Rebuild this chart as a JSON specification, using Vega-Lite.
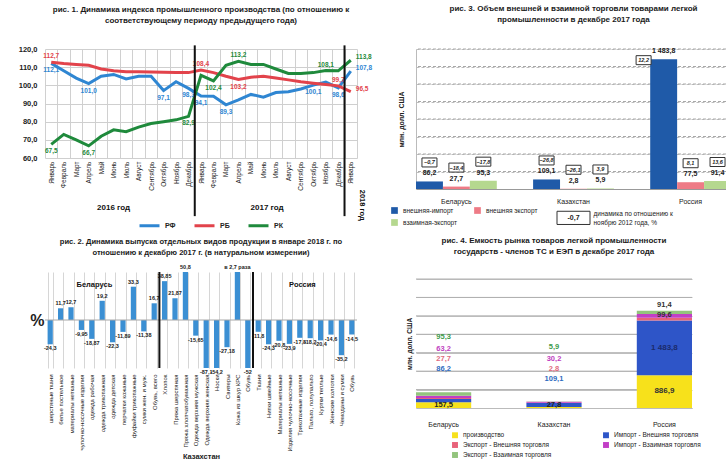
{
  "$schema": "https://vega.github.io/schema/vega-lite/v6.json",
  "background": "white",
  "padding": {"left": 18, "top": 5, "right": 0, "bottom": 0},
  "config": {
    "font": "Liberation Sans",
    "view": {"stroke": null},
    "locale": {"number": {"decimal": ",", "thousands": " ", "grouping": [3], "currency": ["", ""]}},
    "title": {"fontSize": 8, "fontWeight": "bold", "color": "#1a1a1a", "lineHeight": 11, "anchor": "middle"},
    "axis": {"labelColor": "#222", "titleColor": "#222"},
    "legend": {"labelColor": "#222"}
  },
  "datasets": {
    "prod": [
      {"i":0,"s":"РФ","v":112.1},{"i":1,"s":"РФ","v":108.0},{"i":2,"s":"РФ","v":104.0},{"i":3,"s":"РФ","v":101.0},{"i":4,"s":"РФ","v":105.0},{"i":5,"s":"РФ","v":106.0},{"i":6,"s":"РФ","v":103.5},{"i":7,"s":"РФ","v":105.0},{"i":8,"s":"РФ","v":105.0},{"i":9,"s":"РФ","v":97.1},{"i":10,"s":"РФ","v":102.0},{"i":11,"s":"РФ","v":98.3},{"i":12,"s":"РФ","v":94.1},{"i":13,"s":"РФ","v":94.0},{"i":14,"s":"РФ","v":89.3},{"i":15,"s":"РФ","v":92.0},{"i":16,"s":"РФ","v":95.0},{"i":17,"s":"РФ","v":93.5},{"i":18,"s":"РФ","v":96.0},{"i":19,"s":"РФ","v":96.5},{"i":20,"s":"РФ","v":98.0},{"i":21,"s":"РФ","v":100.1},{"i":22,"s":"РФ","v":101.8},{"i":23,"s":"РФ","v":98.6},{"i":24,"s":"РФ","v":107.8},
      {"i":0,"s":"РБ","v":112.7},{"i":1,"s":"РБ","v":112.0},{"i":2,"s":"РБ","v":111.5},{"i":3,"s":"РБ","v":111.0},{"i":4,"s":"РБ","v":109.0},{"i":5,"s":"РБ","v":108.0},{"i":6,"s":"РБ","v":107.5},{"i":7,"s":"РБ","v":107.5},{"i":8,"s":"РБ","v":107.3},{"i":9,"s":"РБ","v":107.2},{"i":10,"s":"РБ","v":107.0},{"i":11,"s":"РБ","v":107.0},{"i":12,"s":"РБ","v":108.4},{"i":13,"s":"РБ","v":107.0},{"i":14,"s":"РБ","v":105.0},{"i":15,"s":"РБ","v":103.2},{"i":16,"s":"РБ","v":104.5},{"i":17,"s":"РБ","v":105.0},{"i":18,"s":"РБ","v":104.0},{"i":19,"s":"РБ","v":103.0},{"i":20,"s":"РБ","v":102.0},{"i":21,"s":"РБ","v":101.2},{"i":22,"s":"РБ","v":100.5},{"i":23,"s":"РБ","v":99.7},{"i":24,"s":"РБ","v":96.5},
      {"i":0,"s":"РК","v":67.5},{"i":1,"s":"РК","v":73.0},{"i":2,"s":"РК","v":70.0},{"i":3,"s":"РК","v":66.7},{"i":4,"s":"РК","v":72.0},{"i":5,"s":"РК","v":75.5},{"i":6,"s":"РК","v":74.5},{"i":7,"s":"РК","v":77.0},{"i":8,"s":"РК","v":79.0},{"i":9,"s":"РК","v":80.0},{"i":10,"s":"РК","v":81.0},{"i":11,"s":"РК","v":82.9},{"i":12,"s":"РК","v":105.5},{"i":13,"s":"РК","v":102.4},{"i":14,"s":"РК","v":111.0},{"i":15,"s":"РК","v":113.2},{"i":16,"s":"РК","v":111.5},{"i":17,"s":"РК","v":111.5},{"i":18,"s":"РК","v":109.0},{"i":19,"s":"РК","v":106.5},{"i":20,"s":"РК","v":106.5},{"i":21,"s":"РК","v":107.0},{"i":22,"s":"РК","v":108.1},{"i":23,"s":"РК","v":108.0},{"i":24,"s":"РК","v":113.8}
    ],
    "labAbove": [
      {"i":0,"s":"РБ","v":112.7},{"i":12,"s":"РБ","v":108.4},{"i":15,"s":"РК","v":113.2},{"i":22,"s":"РК","v":108.1},{"i":23,"s":"РБ","v":99.7}
    ],
    "labBelow": [
      {"i":0,"s":"РФ","v":112.1},{"i":3,"s":"РФ","v":101.0},{"i":9,"s":"РФ","v":97.1},{"i":11,"s":"РФ","v":98.3},{"i":12,"s":"РФ","v":94.1},{"i":14,"s":"РФ","v":89.3},{"i":21,"s":"РФ","v":100.1},{"i":23,"s":"РФ","v":98.6},
      {"i":15,"s":"РБ","v":103.2},
      {"i":0,"s":"РК","v":67.5},{"i":3,"s":"РК","v":66.7},{"i":11,"s":"РК","v":82.9},{"i":13,"s":"РК","v":102.4}
    ],
    "labRight": [
      {"i":24,"s":"РФ","v":107.8},{"i":24,"s":"РБ","v":96.5},{"i":24,"s":"РК","v":113.8}
    ],
    "out": [
      {"n":1,"v":-24.3,"lbl":"-24,3"},{"n":2,"v":11.7,"lbl":"11,7"},{"n":3,"v":12.7,"lbl":"12,7"},{"n":4,"v":-9.95,"lbl":"-9,95"},{"n":5,"v":-18.87,"lbl":"-18,87"},{"n":6,"v":19.2,"lbl":"19,2"},{"n":7,"v":-22.3,"lbl":"-22,3"},{"n":8,"v":-11.89,"lbl":"-11,89"},{"n":9,"v":33.3,"lbl":"33,3"},{"n":10,"v":-11.38,"lbl":"-11,38"},{"n":11,"v":16.7,"lbl":"16,7"},
      {"n":12,"v":38.85,"lbl":"38,85"},{"n":13,"v":21.87,"lbl":"21,87"},{"n":14,"v":50.8,"lbl":"50,8"},{"n":15,"v":-15.65,"lbl":"-15,65"},{"n":16,"v":-87.1,"lbl":"-87,1"},{"n":17,"v":-54.2,"lbl":"-54,2"},{"n":18,"v":-27.18,"lbl":"-27,18"},{"n":19,"v":170,"lbl":"в 2,7 раза"},{"n":20,"v":-52,"lbl":"-52"},
      {"n":21,"v":-11.8,"lbl":"-11,8"},{"n":22,"v":-24.3,"lbl":"-24,3"},{"n":23,"v":-20.8,"lbl":"-20,8"},{"n":24,"v":-23.9,"lbl":"-23,9"},{"n":25,"v":-17.8,"lbl":"-17,8"},{"n":26,"v":-18.2,"lbl":"-18,2"},{"n":27,"v":-20.4,"lbl":"-20,4"},{"n":28,"v":-14.6,"lbl":"-14,6"},{"n":29,"v":-35.2,"lbl":"-35,2"},{"n":30,"v":-14.5,"lbl":"-14,5"}
    ],
    "trade": [
      {"c":"Беларусь","f":"внешняя-импорт","v":86.2,"d":-0.7},{"c":"Беларусь","f":"внешняя экспорт","v":27.7,"d":-18.4},{"c":"Беларусь","f":"взаимная-экспорт","v":95.3,"d":-17.8},
      {"c":"Казахстан","f":"внешняя-импорт","v":109.1,"d":-26.8},{"c":"Казахстан","f":"внешняя экспорт","v":2.8,"d":-26.1},{"c":"Казахстан","f":"взаимная-экспорт","v":5.9,"d":3.9},
      {"c":"Россия","f":"внешняя-импорт","v":1483.8,"d":12.2},{"c":"Россия","f":"внешняя экспорт","v":77.5,"d":8.1},{"c":"Россия","f":"взаимная-экспорт","v":91.4,"d":13.6}
    ],
    "market": [
      {"c":"Беларусь","k":1,"s":"производство","v":157.5},{"c":"Беларусь","k":2,"s":"Импорт - Внешняя торговля","v":86.2},{"c":"Беларусь","k":3,"s":"Экспорт - Внешняя торговля","v":27.7},{"c":"Беларусь","k":4,"s":"Импорт - Взаимная торговля","v":63.2},{"c":"Беларусь","k":5,"s":"Экспорт - Взаимная торговля","v":95.3},
      {"c":"Казахстан","k":1,"s":"производство","v":27.8},{"c":"Казахстан","k":2,"s":"Импорт - Внешняя торговля","v":109.1},{"c":"Казахстан","k":3,"s":"Экспорт - Внешняя торговля","v":2.8},{"c":"Казахстан","k":4,"s":"Импорт - Взаимная торговля","v":30.2},{"c":"Казахстан","k":5,"s":"Экспорт - Взаимная торговля","v":5.9},
      {"c":"Россия","k":1,"s":"производство","v":886.9},{"c":"Россия","k":2,"s":"Импорт - Внешняя торговля","v":1483.8},{"c":"Россия","k":3,"s":"Экспорт - Внешняя торговля","v":77.5},{"c":"Россия","k":4,"s":"Импорт - Взаимная торговля","v":99.6},{"c":"Россия","k":5,"s":"Экспорт - Взаимная торговля","v":91.4}
    ]
  },
  "resolve": {"scale": {"color": "independent"}, "legend": {"color": "independent"}},
  "spacing": 17,
  "hconcat": [
    {
      "resolve": {"scale": {"color": "independent"}, "legend": {"color": "independent"}},
      "concat": [
        {
          "width": 312,
          "height": 109,
          "title": {"text": ["рис. 1. Динамика индекса промышленного производства (по отношению к", "соответствующему периоду предыдущего года)"], "offset": 19},
          "layer": [
            {
              "data": {"name": "prod"},
              "mark": {"type": "line", "strokeWidth": 3},
              "encoding": {
                "x": {"field": "i", "type": "ordinal", "scale": {"type": "band", "paddingInner": 0, "paddingOuter": 0},
                  "axis": {"title": null, "labelAngle": -90, "labelFontSize": 6.5, "labelPadding": 3, "ticks": false, "domain": false, "grid": true, "gridColor": "#d0d0d0", "tickBand": "extent",
                    "labelExpr": "['Январь','Февраль','Март','Апрель','Май','Июнь','Июль','Август','Сентябрь','Октябрь','Ноябрь','Декабрь'][datum.value % 12]"}},
                "y": {"field": "v", "type": "quantitative", "scale": {"domain": [60, 120], "nice": false, "zero": false},
                  "axis": {"title": null, "tickCount": 6, "format": ".1f", "labelFontSize": 7.5, "labelFontWeight": "bold", "labelPadding": 8, "labelOverlap": false, "ticks": false, "domain": false, "grid": true, "gridColor": "#cfcfcf"}},
                "color": {"field": "s", "type": "nominal", "scale": {"domain": ["РФ", "РБ", "РК"], "range": ["#2f86d2", "#e2434b", "#1f8a3c"]},
                  "legend": {"orient": "none", "legendX": 93, "legendY": 165, "direction": "horizontal", "title": null, "symbolType": "stroke", "symbolStrokeWidth": 3, "symbolSize": 400, "labelFontSize": 7, "labelFontWeight": "bold", "columnPadding": 12}}
              }
            },
            {
              "data": {"name": "labAbove"},
              "mark": {"type": "text", "baseline": "bottom", "dy": -3, "fontSize": 6.5, "fontWeight": "bold"},
              "encoding": {
                "x": {"field": "i", "type": "ordinal"},
                "y": {"field": "v", "type": "quantitative"},
                "text": {"field": "v", "type": "quantitative", "format": ".1f"},
                "color": {"field": "s", "type": "nominal", "legend": null}
              }
            },
            {
              "data": {"name": "labBelow"},
              "mark": {"type": "text", "baseline": "top", "dy": 4, "fontSize": 6.5, "fontWeight": "bold"},
              "encoding": {
                "x": {"field": "i", "type": "ordinal"},
                "y": {"field": "v", "type": "quantitative"},
                "text": {"field": "v", "type": "quantitative", "format": ".1f"},
                "color": {"field": "s", "type": "nominal", "legend": null}
              }
            },
            {
              "data": {"name": "labRight"},
              "mark": {"type": "text", "align": "left", "baseline": "middle", "dx": 5, "dy": -3, "fontSize": 6.5, "fontWeight": "bold"},
              "encoding": {
                "x": {"field": "i", "type": "ordinal"},
                "y": {"field": "v", "type": "quantitative"},
                "text": {"field": "v", "type": "quantitative", "format": ".1f"},
                "color": {"field": "s", "type": "nominal", "legend": null}
              }
            },
            {
              "data": {"values": [{}]},
              "mark": {"type": "rule", "color": "#111", "strokeWidth": 2},
              "encoding": {"x": {"datum": 12, "type": "ordinal", "bandPosition": 0}, "y": {"datum": 122, "type": "quantitative", "axis": {"title": null, "tickCount": 6, "format": ".1f", "labelFontSize": 7.5, "labelFontWeight": "bold", "labelPadding": 8, "labelOverlap": false, "ticks": false, "domain": false, "grid": true, "gridColor": "#cfcfcf"}}, "y2": {"datum": 28}}
            },
            {
              "data": {"values": [{}]},
              "mark": {"type": "rule", "color": "#111", "strokeWidth": 2},
              "encoding": {"x": {"datum": 24, "type": "ordinal", "bandPosition": 0}, "y": {"datum": 122, "type": "quantitative", "axis": {"title": null, "tickCount": 6, "format": ".1f", "labelFontSize": 7.5, "labelFontWeight": "bold", "labelPadding": 8, "labelOverlap": false, "ticks": false, "domain": false, "grid": true, "gridColor": "#cfcfcf"}}, "y2": {"datum": 28}}
            },
            {
              "data": {"values": [{}]},
              "mark": {"type": "text", "text": "2016 год", "fontSize": 8, "fontWeight": "bold", "color": "#111"},
              "encoding": {"x": {"datum": 5, "type": "ordinal", "bandPosition": 0.5}, "y": {"datum": 32.5, "type": "quantitative", "axis": {"title": null, "tickCount": 6, "format": ".1f", "labelFontSize": 7.5, "labelFontWeight": "bold", "labelPadding": 8, "labelOverlap": false, "ticks": false, "domain": false, "grid": true, "gridColor": "#cfcfcf"}}}
            },
            {
              "data": {"values": [{}]},
              "mark": {"type": "text", "text": "2017 год", "fontSize": 8, "fontWeight": "bold", "color": "#111"},
              "encoding": {"x": {"datum": 17, "type": "ordinal", "bandPosition": 0.8}, "y": {"datum": 32.5, "type": "quantitative", "axis": {"title": null, "tickCount": 6, "format": ".1f", "labelFontSize": 7.5, "labelFontWeight": "bold", "labelPadding": 8, "labelOverlap": false, "ticks": false, "domain": false, "grid": true, "gridColor": "#cfcfcf"}}}
            },
            {
              "data": {"values": [{}]},
              "mark": {"type": "text", "text": "2018 год", "fontSize": 7.5, "fontWeight": "bold", "color": "#111", "angle": 90, "dy": -5},
              "encoding": {"x": {"datum": 24, "type": "ordinal", "bandPosition": 1}, "y": {"datum": 34, "type": "quantitative", "axis": {"title": null, "tickCount": 6, "format": ".1f", "labelFontSize": 7.5, "labelFontWeight": "bold", "labelPadding": 8, "labelOverlap": false, "ticks": false, "domain": false, "grid": true, "gridColor": "#cfcfcf"}}}
            }
          ]
        },
        {
          "width": 312,
          "height": 96,
          "title": {"text": ["рис. 2. Динамика выпуска отдельных видов продукции в январе 2018 г. по", "отношению к декабрю 2017 г. (в натуральном измерении)"], "offset": 8, "fontSize": 7.6},
          "data": {"name": "out"},
          "layer": [
            {
              "mark": {"type": "bar", "color": "#3b8fd3"},
              "encoding": {
                "x": {"field": "n", "type": "ordinal", "scale": {"paddingInner": 0.5, "paddingOuter": 0.25},
                  "axis": {"title": "Казахстан", "titleFontSize": 7.5, "titleFontWeight": "bold", "titlePadding": 2, "labelAngle": -90, "labelFontSize": 6, "labelPadding": 6, "labelLimit": 80, "ticks": false, "domain": false, "grid": true, "gridColor": "#d6d6d6", "tickBand": "extent",
                    "labelExpr": "['', 'шерстяные ткани','белье постельное','материалы нетканые','чулочно-носочные изделия','одежда рабочая','одежда трикотажная','одежда детская','перчатки кожаные','фуфайки трикотажные','сумки жен. и муж.','Обувь, всего','Хлопок','Пряжа шерстяная','Пряжа хлопчатобумажная','Одежда верхняя мужская','Одежда верхняя женская','Носки','Свитеры','Кожа из шкур КРС','Обувь','Ткани','Нитки швейные','Материалы нетканые','Изделия чулочно-носочные','Трикотажные изделия','Пальто, полупальто','Куртки теплые','Женские колготки','Чемоданы и сумки','Обувь'][datum.value]"}},
                "y": {"field": "v", "type": "quantitative", "scale": {"domain": [-48, 48], "nice": false, "clamp": true},
                  "axis": {"title": "%", "titleAngle": 0, "titleFontSize": 16, "titleFontWeight": "bold", "titleBaseline": "middle", "titleAlign": "right", "labels": false, "ticks": false, "domain": false, "grid": false, "titlePadding": 1}}
              }
            },
            {
              "data": {"values": [{}]},
              "mark": {"type": "rule", "color": "#a8a8a8", "strokeWidth": 1},
              "encoding": {"y": {"datum": 0, "type": "quantitative"}}
            },
            {
              "transform": [{"filter": "datum.v >= 0"}],
              "mark": {"type": "text", "baseline": "bottom", "dy": -2, "fontSize": 5.5, "fontWeight": "bold", "color": "#222"},
              "encoding": {"x": {"field": "n", "type": "ordinal"}, "y": {"field": "v", "type": "quantitative"}, "text": {"field": "lbl"}}
            },
            {
              "transform": [{"filter": "datum.v < 0"}],
              "mark": {"type": "text", "baseline": "top", "dy": 2, "fontSize": 5.5, "fontWeight": "bold", "color": "#222"},
              "encoding": {"x": {"field": "n", "type": "ordinal"}, "y": {"field": "v", "type": "quantitative"}, "text": {"field": "lbl"}}
            },
            {
              "data": {"values": [{}]},
              "mark": {"type": "rule", "color": "#111", "strokeWidth": 2, "xOffset": -2.6},
              "encoding": {"x": {"datum": 12, "type": "ordinal", "bandPosition": 0}, "y": {"datum": 48, "type": "quantitative"}, "y2": {"datum": -48}}
            },
            {
              "data": {"values": [{}]},
              "mark": {"type": "rule", "color": "#111", "strokeWidth": 2, "xOffset": -2.6},
              "encoding": {"x": {"datum": 21, "type": "ordinal", "bandPosition": 0}, "y": {"datum": 48, "type": "quantitative"}, "y2": {"datum": -48}}
            },
            {
              "data": {"values": [{}]},
              "mark": {"type": "text", "text": "Беларусь", "fontSize": 7.5, "fontWeight": "bold", "color": "#111"},
              "encoding": {"x": {"datum": 5, "type": "ordinal", "bandPosition": 1}, "y": {"datum": 35, "type": "quantitative"}}
            },
            {
              "data": {"values": [{}]},
              "mark": {"type": "text", "text": "Россия", "fontSize": 7.5, "fontWeight": "bold", "color": "#111"},
              "encoding": {"x": {"datum": 25, "type": "ordinal", "bandPosition": 1}, "y": {"datum": 35, "type": "quantitative"}}
            }
          ]
        }
      ],
      "columns": 1,
      "align": "none",
      "spacing": 6
    },
    {
      "resolve": {"scale": {"color": "independent"}, "legend": {"color": "independent"}},
      "vconcat": [
        {
          "width": 315,
          "height": 140,
          "title": {"text": ["рис. 3. Объем внешней и взаимной торговли товарами легкой", "промышленности в декабре 2017 года"], "offset": 20},
          "data": {"name": "trade"},
          "layer": [
            {
              "data": {"values": [{"g": 200}, {"g": 400}, {"g": 600}, {"g": 800}, {"g": 1000}, {"g": 1200}, {"g": 1400}, {"g": 1600}]},
              "mark": {"type": "rule", "color": "#a9a9a9", "strokeWidth": 1, "strokeDash": [3, 2]},
              "encoding": {"y": {"field": "g", "type": "quantitative", "axis": {"title": "млн. долл. США", "titleFontSize": 7, "titleFontWeight": "bold", "titlePadding": 12, "labelExpr": "''", "labelPadding": 0, "ticks": false, "domain": true, "domainColor": "#bbb", "grid": true, "gridColor": "#bdbdbd", "gridDash": [3, 2], "tickCount": 8}}}
            },
            {
              "mark": {"type": "bar"},
              "encoding": {
                "x": {"field": "c", "type": "nominal", "scale": {"paddingInner": 0.31, "paddingOuter": 0},
                  "axis": {"title": null, "labelAngle": 0, "labelFontSize": 7, "labelPadding": 8, "ticks": false, "domainColor": "#999"}},
                "xOffset": {"field": "f", "type": "nominal", "scale": {"domain": ["внешняя-импорт", "внешняя экспорт", "взаимная-экспорт"]}},
                "y": {"field": "v", "type": "quantitative", "scale": {"domain": [0, 1600], "nice": false},
                  "axis": {"title": "млн. долл. США", "titleFontSize": 7, "titleFontWeight": "bold", "titlePadding": 12, "labelExpr": "''", "labelPadding": 0, "ticks": false, "domain": true, "domainColor": "#bbb", "grid": true, "gridColor": "#bdbdbd", "gridDash": [3, 2], "tickCount": 8}},
                "color": {"field": "f", "type": "nominal", "scale": {"domain": ["внешняя-импорт", "внешняя экспорт", "взаимная-экспорт"], "range": ["#1f5aa8", "#ee7b86", "#b5d88f"]},
                  "legend": {"orient": "none", "legendX": -26, "legendY": 157, "columns": 2, "direction": "horizontal", "title": null, "symbolType": "square", "symbolSize": 45, "labelFontSize": 6.5, "columnPadding": 15, "rowPadding": 4}}
              }
            },
            {
              "mark": {"type": "text", "baseline": "bottom", "dy": -5, "fontSize": 7, "fontWeight": "bold", "color": "#222"},
              "encoding": {
                "x": {"field": "c", "type": "nominal"},
                "xOffset": {"field": "f", "type": "nominal"},
                "y": {"field": "v", "type": "quantitative"},
                "text": {"field": "v", "type": "quantitative", "format": ",.1f"}
              }
            },
            {
              "transform": [{"filter": "datum.c != 'Россия' || datum.f != 'внешняя-импорт'"}],
              "mark": {"type": "point", "shape": "M-1,-0.6H1V0.6H-1Z", "size": 225, "filled": true, "fill": "white", "stroke": "#333", "strokeWidth": 1, "opacity": 1, "yOffset": -19},
              "encoding": {
                "x": {"field": "c", "type": "nominal"},
                "xOffset": {"field": "f", "type": "nominal"},
                "y": {"field": "v", "type": "quantitative"}
              }
            },
            {
              "transform": [{"filter": "datum.c != 'Россия' || datum.f != 'внешняя-импорт'"}],
              "mark": {"type": "text", "baseline": "middle", "dy": -19, "fontSize": 5.5, "fontWeight": "bold", "fontStyle": "italic", "color": "#222"},
              "encoding": {
                "x": {"field": "c", "type": "nominal"},
                "xOffset": {"field": "f", "type": "nominal"},
                "y": {"field": "v", "type": "quantitative"},
                "text": {"field": "d", "type": "quantitative", "format": ".1f"}
              }
            },
            {
              "transform": [{"filter": "datum.c == 'Россия' && datum.f == 'внешняя-импорт'"}],
              "mark": {"type": "point", "shape": "M-1,-0.6H1V0.6H-1Z", "size": 225, "filled": true, "fill": "white", "stroke": "#333", "strokeWidth": 1, "opacity": 1, "xOffset": -47, "yOffset": 1},
              "encoding": {
                "x": {"field": "c", "type": "nominal"},
                "y": {"field": "v", "type": "quantitative"}
              }
            },
            {
              "transform": [{"filter": "datum.c == 'Россия' && datum.f == 'внешняя-импорт'"}],
              "mark": {"type": "text", "baseline": "middle", "dx": -47, "dy": 1, "fontSize": 5.5, "fontWeight": "bold", "fontStyle": "italic", "color": "#222"},
              "encoding": {
                "x": {"field": "c", "type": "nominal"},
                "y": {"field": "v", "type": "quantitative"},
                "text": {"field": "d", "type": "quantitative", "format": ".1f"}
              }
            },
            {
              "data": {"values": [{}]},
              "mark": {"type": "point", "shape": "M-1,-0.4H1V0.4H-1Z", "size": 1089, "filled": true, "fill": "white", "stroke": "#333", "strokeWidth": 1, "opacity": 1},
              "encoding": {"x": {"datum": "Казахстан", "type": "nominal"}, "y": {"datum": -330, "type": "quantitative", "axis": {"title": "млн. долл. США", "titleFontSize": 7, "titleFontWeight": "bold", "titlePadding": 12, "labelExpr": "''", "labelPadding": 0, "ticks": false, "domain": true, "domainColor": "#bbb", "grid": true, "gridColor": "#bdbdbd", "gridDash": [3, 2], "tickCount": 8}}}
            },
            {
              "data": {"values": [{}]},
              "mark": {"type": "text", "text": "-0,7", "fontSize": 7, "fontWeight": "bold", "color": "#222"},
              "encoding": {"x": {"datum": "Казахстан", "type": "nominal"}, "y": {"datum": -330, "type": "quantitative", "axis": {"title": "млн. долл. США", "titleFontSize": 7, "titleFontWeight": "bold", "titlePadding": 12, "labelExpr": "''", "labelPadding": 0, "ticks": false, "domain": true, "domainColor": "#bbb", "grid": true, "gridColor": "#bdbdbd", "gridDash": [3, 2], "tickCount": 8}}}
            },
            {
              "data": {"values": [{}]},
              "mark": {"type": "text", "text": ["динамика по отношению к", "ноябрю 2012 года, %"], "align": "left", "baseline": "middle", "dx": 20, "dy": -4, "fontSize": 6.5, "lineHeight": 9, "color": "#222"},
              "encoding": {"x": {"datum": "Казахстан", "type": "nominal"}, "y": {"datum": -330, "type": "quantitative", "axis": {"title": "млн. долл. США", "titleFontSize": 7, "titleFontWeight": "bold", "titlePadding": 12, "labelExpr": "''", "labelPadding": 0, "ticks": false, "domain": true, "domainColor": "#bbb", "grid": true, "gridColor": "#bdbdbd", "gridDash": [3, 2], "tickCount": 8}}}
            }
          ]
        },
        {
          "width": 276,
          "height": 129,
          "title": {"text": ["рис. 4. Емкость рынка товаров легкой промышленности", "государств - членов ТС и ЕЭП в декабре 2017 года"], "offset": 18},
          "data": {"name": "market"},
          "transform": [
            {"joinaggregate": [{"op": "sum", "field": "v", "as": "total"}], "groupby": ["c"]},
            {"window": [{"op": "sum", "field": "v", "as": "cum"}], "sort": [{"field": "k"}], "groupby": ["c"], "frame": [null, 0]}
          ],
          "layer": [
            {
              "data": {"values": [{"g": 500}, {"g": 1000}, {"g": 1500}, {"g": 2000}, {"g": 2500}, {"g": 3000}, {"g": 3500}]},
              "mark": {"type": "rule", "color": "#b0b0b0", "strokeWidth": 1},
              "encoding": {"y": {"field": "g", "type": "quantitative", "axis": {"title": "млн. долл. США", "titleFontSize": 6.5, "titleFontWeight": "bold", "titlePadding": 4, "labelExpr": "''", "labelPadding": 0, "ticks": false, "domain": false, "grid": true, "gridColor": "#c2c2c2", "tickCount": 7}}}
            },
            {
              "mark": {"type": "bar"},
              "encoding": {
                "x": {"field": "c", "type": "nominal", "scale": {"paddingInner": 0.5, "paddingOuter": 0},
                  "axis": {"title": null, "labelAngle": 0, "labelFontSize": 7, "labelPadding": 12, "ticks": false, "domainColor": "#bbb"}},
                "y": {"field": "v", "type": "quantitative", "stack": "zero", "scale": {"domain": [0, 3500], "nice": false},
                  "axis": {"title": "млн. долл. США", "titleFontSize": 6.5, "titleFontWeight": "bold", "titlePadding": 4, "labelExpr": "''", "labelPadding": 0, "ticks": false, "domain": false, "grid": true, "gridColor": "#c2c2c2", "tickCount": 7}},
                "order": {"field": "k", "type": "quantitative"},
                "color": {"field": "s", "type": "nominal",
                  "scale": {"domain": ["производство", "Импорт - Внешняя торговля", "Экспорт - Внешняя торговля", "Импорт - Взаимная торговля", "Экспорт - Взаимная торговля"], "range": ["#f7e11b", "#2e55c8", "#e8627a", "#c23ec6", "#93c47d"]},
                  "legend": {"orient": "none", "legendX": 35, "legendY": 152, "columns": 2, "direction": "horizontal", "title": null, "symbolType": "square", "symbolSize": 35, "labelFontSize": 6.5, "columnPadding": 50, "rowPadding": 2}}
              }
            },
            {
              "transform": [{"filter": "datum.c != 'Россия' && datum.k == 1"}],
              "mark": {"type": "text", "baseline": "middle", "dy": -3, "fontSize": 7.5, "fontWeight": "bold", "color": "#222"},
              "encoding": {"x": {"field": "c", "type": "nominal"}, "y": {"datum": 0, "type": "quantitative", "axis": {"title": "млн. долл. США", "titleFontSize": 6.5, "titleFontWeight": "bold", "titlePadding": 4, "labelExpr": "''", "labelPadding": 0, "ticks": false, "domain": false, "grid": true, "gridColor": "#c2c2c2", "tickCount": 7}}, "text": {"field": "v", "type": "quantitative", "format": ",.1f"}}
            },
            {
              "transform": [{"filter": "datum.c != 'Россия' && datum.k == 2"}],
              "mark": {"type": "text", "baseline": "middle", "dy": -23, "fontSize": 7.5, "fontWeight": "bold", "color": "#2f6bc0"},
              "encoding": {"x": {"field": "c", "type": "nominal"}, "y": {"field": "total", "type": "quantitative"}, "text": {"field": "v", "type": "quantitative", "format": ",.1f"}}
            },
            {
              "transform": [{"filter": "datum.c != 'Россия' && datum.k == 3"}],
              "mark": {"type": "text", "baseline": "middle", "dy": -33, "fontSize": 7.5, "fontWeight": "bold", "color": "#e06a7e"},
              "encoding": {"x": {"field": "c", "type": "nominal"}, "y": {"field": "total", "type": "quantitative"}, "text": {"field": "v", "type": "quantitative", "format": ",.1f"}}
            },
            {
              "transform": [{"filter": "datum.c != 'Россия' && datum.k == 4"}],
              "mark": {"type": "text", "baseline": "middle", "dy": -43, "fontSize": 7.5, "fontWeight": "bold", "color": "#c040c0"},
              "encoding": {"x": {"field": "c", "type": "nominal"}, "y": {"field": "total", "type": "quantitative"}, "text": {"field": "v", "type": "quantitative", "format": ",.1f"}}
            },
            {
              "transform": [{"filter": "datum.c != 'Россия' && datum.k == 5"}],
              "mark": {"type": "text", "baseline": "middle", "dy": -55, "fontSize": 7.5, "fontWeight": "bold", "color": "#3d9a4a"},
              "encoding": {"x": {"field": "c", "type": "nominal"}, "y": {"field": "total", "type": "quantitative"}, "text": {"field": "v", "type": "quantitative", "format": ",.1f"}}
            },
            {
              "transform": [{"filter": "datum.c == 'Россия' && datum.k == 1"}],
              "mark": {"type": "text", "baseline": "middle", "dy": 16, "fontSize": 8, "fontWeight": "bold", "color": "#333"},
              "encoding": {"x": {"field": "c", "type": "nominal"}, "y": {"field": "cum", "type": "quantitative"}, "text": {"field": "v", "type": "quantitative", "format": ",.1f"}}
            },
            {
              "transform": [{"filter": "datum.c == 'Россия' && datum.k == 2"}],
              "mark": {"type": "text", "baseline": "middle", "dy": 27, "fontSize": 8, "fontWeight": "bold", "color": "#1b2a6b"},
              "encoding": {"x": {"field": "c", "type": "nominal"}, "y": {"field": "cum", "type": "quantitative"}, "text": {"field": "v", "type": "quantitative", "format": ",.1f"}}
            },
            {
              "transform": [{"filter": "datum.c == 'Россия' && datum.k == 4"}],
              "mark": {"type": "text", "baseline": "middle", "dy": 1, "fontSize": 7.5, "fontWeight": "bold", "color": "#333"},
              "encoding": {"x": {"field": "c", "type": "nominal"}, "y": {"field": "cum", "type": "quantitative"}, "text": {"field": "v", "type": "quantitative", "format": ",.1f"}}
            },
            {
              "transform": [{"filter": "datum.c == 'Россия' && datum.k == 5"}],
              "mark": {"type": "text", "baseline": "bottom", "dy": -2, "fontSize": 7.5, "fontWeight": "bold", "color": "#333"},
              "encoding": {"x": {"field": "c", "type": "nominal"}, "y": {"field": "cum", "type": "quantitative"}, "text": {"field": "v", "type": "quantitative", "format": ",.1f"}}
            }
          ]
        }
      ],
      "bounds": "flush",
      "spacing": 90
    }
  ]
}
